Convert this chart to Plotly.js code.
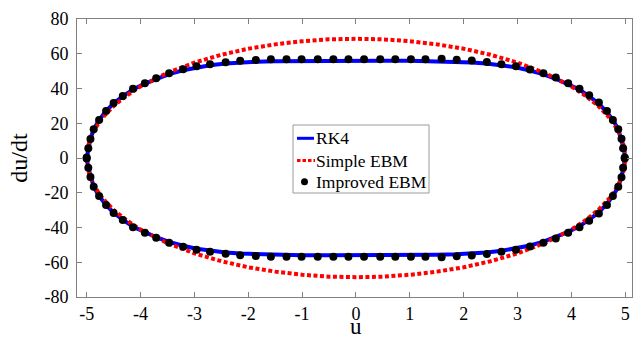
<!DOCTYPE html>
<html>
<head>
<meta charset="utf-8">
<script src="https://cdn.plot.ly/plotly-3.0.1.min.js"></script>
<style>html,body{margin:0;padding:0;background:#fff;}#chart{width:640px;height:340px;}</style>
</head>
<body>
<div id="chart"></div>
<script>
// Upper half of each orbit (u from -5 to 5); the lower half mirrors it (du/dt -> -du/dt)
const rk4U = [-5, -4.97, -4.93, -4.87, -4.77, -4.64, -4.5, -4.33, -4.14, -3.92, -3.71, -3.47, -3.21, -2.96, -2.71, -2.42, -2.15, -1.86, -1.5, -1, -0.5, 0,
              0.5, 1, 1.5, 1.86, 2.15, 2.42, 2.71, 2.96, 3.21, 3.47, 3.71, 3.92, 4.14, 4.33, 4.5, 4.64, 4.77, 4.87, 4.93, 4.97, 5];
const rk4V = [0, 5.6, 11, 16.5, 21.9, 27, 31.5, 35.5, 39.5, 42.8, 45.6, 48.3, 50.5, 52.2, 53.4, 54.4, 55, 55.4, 55.7, 55.9, 56, 56,
              56, 55.9, 55.7, 55.4, 55, 54.4, 53.4, 52.2, 50.5, 48.3, 45.6, 42.8, 39.5, 35.5, 31.5, 27, 21.9, 16.5, 11, 5.6, 0];

const ebmU = [-5, -4.98, -4.93, -4.85, -4.7, -4.5, -4.25, -4, -3.5, -3, -2.5, -2, -1.5, -1, -0.5, 0,
              0.5, 1, 1.5, 2, 2.5, 3, 3.5, 4, 4.25, 4.5, 4.7, 4.85, 4.93, 4.98, 5];
const ebmV = [0, 6.1, 11.4, 16.7, 23.4, 29.9, 36.1, 41.2, 49, 54.9, 59.4, 62.9, 65.4, 67.2, 68.3, 68.6,
              68.3, 67.2, 65.4, 62.9, 59.4, 54.9, 49, 41.2, 36.1, 29.9, 23.4, 16.7, 11.4, 6.1, 0];

const impU = [-5, -4.97, -4.93, -4.87, -4.77, -4.64, -4.5, -4.33, -4.14, -3.92, -3.71, -3.47, -3.21, -2.96, -2.71, -2.42, -2.15, -1.86, -1.58,
              -1.29, -1.01, -0.71, -0.42, -0.14, 0.15, 0.45, 0.73, 1.02, 1.29,
              1.59, 1.87, 2.15, 2.43, 2.7, 2.97, 3.23, 3.48, 3.71, 3.94, 4.15, 4.33, 4.51, 4.66, 4.77, 4.87, 4.93, 4.96, 4.99];
const impV = [0.3, 5.6, 11, 16.5, 21.9, 27.1, 31.7, 35.7, 39.8, 43, 45.9, 48.8, 51.1, 52.8, 54, 55.1, 55.9, 56.4, 56.8,
              56.8, 56.8, 56.8, 56.8, 56.8, 56.8, 56.8, 56.8, 56.8, 56.8,
              57.1, 56.5, 56.1, 55.3, 54, 52.8, 50.9, 48.8, 46.3, 43, 39.9, 36.1, 31.9, 27.1, 21.9, 16.5, 11.1, 5.6, 0.3];

const seriesNames = ['RK4', 'Simple EBM', 'Improved EBM'];
const xTitle = 'u';
const yTitle = 'du/dt';
const xTicks = [-5, -4, -3, -2, -1, 0, 1, 2, 3, 4, 5];
const yTicks = [-80, -60, -40, -20, 0, 20, 40, 60, 80];

function loop(u, v) {
  const ru = u.slice().reverse();
  const rv = v.slice().reverse().map(d => -d);
  return {x: u.concat(ru), y: v.concat(rv)};
}
const rk4 = loop(rk4U, rk4V);
const ebm = loop(ebmU, ebmV);
const imp = {x: impU.concat(impU), y: impV.concat(impV.map(d => -d))};

const font = 'Liberation Serif';
const BLUE = '#0000ff', RED = '#ff0000', BLACK = '#000000';
const RED_DASH = '4px,2.5px';

const data = [
  {type: 'scatter', mode: 'lines', name: seriesNames[0], x: rk4.x, y: rk4.y,
   line: {color: BLUE, width: 4}},
  {type: 'scatter', mode: 'lines', name: seriesNames[1], x: ebm.x, y: ebm.y,
   line: {color: RED, width: 4, dash: RED_DASH}},
  {type: 'scatter', mode: 'markers', name: seriesNames[2], x: imp.x, y: imp.y,
   marker: {color: BLACK, size: 8}}
];

// Plot-area geometry (pixels) used to place the boxed legend and the x title
const M = {l: 77, r: 8, t: 19, b: 43};
const PW = 640 - M.l - M.r, PH = 340 - M.t - M.b;
const px = x => (x - M.l) / PW;
const py = y => 1 - (y - M.t) / PH;

const legBox = {x0: 293, x1: 429, y0: 125, y1: 193};
const rowY = [138.3, 160.5, 181.7];
const textX = 314.5;

const shapes = [
  {type: 'rect', xref: 'paper', yref: 'paper', x0: px(legBox.x0), x1: px(legBox.x1), y0: py(legBox.y0), y1: py(legBox.y1),
   line: {color: '#9a9a9a', width: 1}, fillcolor: '#ffffff', layer: 'above'},
  {type: 'line', xref: 'paper', yref: 'paper', x0: px(297), x1: px(314), y0: py(rowY[0]), y1: py(rowY[0]),
   line: {color: BLUE, width: 3}, layer: 'above'},
  {type: 'line', xref: 'paper', yref: 'paper', x0: px(297), x1: px(315), y0: py(rowY[1]), y1: py(rowY[1]),
   line: {color: RED, width: 3, dash: '3.5px,2px'}, layer: 'above'},
  {type: 'circle', xref: 'paper', yref: 'paper', x0: px(301), x1: px(308), y0: py(rowY[2] - 3.5), y1: py(rowY[2] + 3.5),
   line: {color: BLACK, width: 0}, fillcolor: BLACK, layer: 'above'}
];

const annotations = seriesNames.map((name, i) => ({
  xref: 'paper', yref: 'paper', x: px(textX), y: py(rowY[i]), xanchor: 'left', yanchor: 'middle',
  text: name, showarrow: false, font: {family: font, size: 17.5, color: '#000'}, borderpad: 0
}));
// x-axis title, placed below the tick labels (box bottom at the page edge)
annotations.push({
  xref: 'paper', yref: 'paper', x: px(356), y: py(340), xanchor: 'center', yanchor: 'bottom',
  text: xTitle, showarrow: false, font: {family: font, size: 23, color: '#000'}, borderpad: 0
});

const axisCommon = {
  showgrid: false, zeroline: false, showline: true, linecolor: '#808080', linewidth: 1,
  mirror: 'ticks', ticks: 'inside', ticklen: 5, tickcolor: '#808080', tickwidth: 1,
  tickfont: {family: font, size: 18, color: '#000'}
};

const layout = {
  width: 640, height: 340,
  margin: M,
  paper_bgcolor: '#fff', plot_bgcolor: '#fff',
  font: {family: font, color: '#000'},
  showlegend: false,
  xaxis: Object.assign({}, axisCommon, {
    range: [-5.18, 5.125], tickvals: xTicks, ticktext: xTicks.map(String)
  }),
  yaxis: Object.assign({}, axisCommon, {
    range: [-80, 80], tickvals: yTicks, ticktext: yTicks.map(String), ticklabelstandoff: 4,
    title: {text: yTitle, font: {family: font, size: 24}, standoff: 10}
  }),
  shapes: shapes,
  annotations: annotations
};

Plotly.newPlot('chart', data, layout, {staticPlot: true, displayModeBar: false});
</script>
</body>
</html>
